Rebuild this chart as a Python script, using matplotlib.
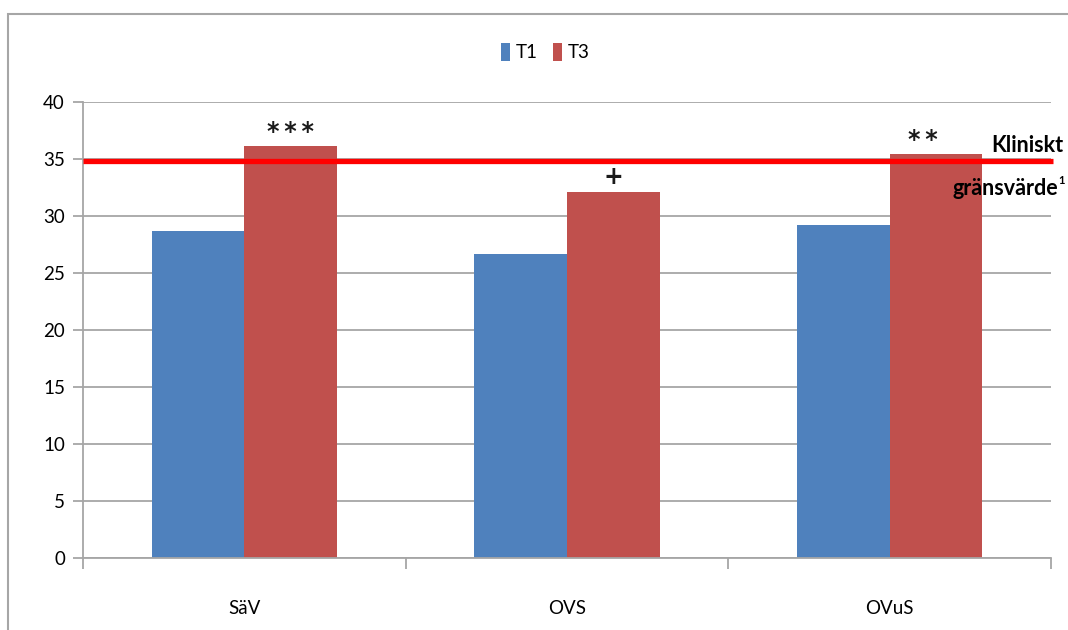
import matplotlib
matplotlib.use("Agg")
import matplotlib.pyplot as plt
from matplotlib.patches import Rectangle
import numpy as np

categories = ["SäV", "OVS", "OVuS"]
t1_values = [28.7, 26.7, 29.2]
t3_values = [36.1, 32.1, 35.4]
significance = ["***", "+", "**"]
threshold = 34.85
threshold_label = ["Kliniskt", "gränsvärde"]
series_names = ["T1", "T3"]
yticks = [0, 5, 10, 15, 20, 25, 30, 35, 40]

plt.rcParams['font.family'] = ['Lato', 'DejaVu Sans']

fig = plt.figure(figsize=(10.68, 6.3), dpi=100)
ax = fig.add_axes([83/1068, 1-558/630, (1051-83)/1068, (558-102)/630])

x = np.arange(len(categories))
w = 0.287
b1 = ax.bar(x - w/2, t1_values, w, color="#4F81BD", label=series_names[0], zorder=2)
b2 = ax.bar(x + w/2, t3_values, w, color="#C0504D", label=series_names[1], zorder=2)

ax.set_xlim(-0.5, 2.5)
ax.set_ylim(0, 40)
ax.set_yticks(yticks)
ax.yaxis.grid(True, color="#A6A6A6", linewidth=1.3, zorder=0)
ax.set_axisbelow(True)
for s in ["top", "right"]:
    ax.spines[s].set_visible(False)
for s in ["left", "bottom"]:
    ax.spines[s].set_color("#A6A6A6")
    ax.spines[s].set_linewidth(1.3)
ax.set_xticks(x)
ax.set_xticklabels(categories, fontsize=13.5)
ax.tick_params(axis="x", which="major", length=0, pad=30)
ax.set_xticks([-0.5, 0.5, 1.5, 2.5], minor=True)
ax.tick_params(axis="x", which="minor", length=8, color="#A6A6A6", width=1.3)
ax.tick_params(axis="y", length=7, color="#A6A6A6", width=1.3, labelsize=13.5, pad=6)

# threshold line
ax.plot([-0.5, 2.505], [threshold, threshold], color="#FF0000", linewidth=3.8,
        clip_on=False, zorder=4, solid_capstyle="butt")

# significance marks
offsets = [0.0, 0.0, -0.04]
ypos = [0.2, 0.25, 0.2]
for i, (v, s) in enumerate(zip(t3_values, significance)):
    label = "\u2009".join(s) if s.startswith("*") else s
    ax.text(x[i] + w/2 + offsets[i], v + ypos[i], label, ha="center", va="bottom",
            fontsize=17, fontweight="bold", color="#1a1a1a", zorder=5,
            family="DejaVu Sans")

fig.text(1063/1068, 1-145/630, threshold_label[0], ha="right", va="center",
         fontsize=15.5, fontweight="bold")
fig.text(1058/1068, 1-188/630, threshold_label[1], ha="right", va="center",
         fontsize=15.5, fontweight="bold")
fig.text(1058.5/1068, 1-180/630, "1", ha="left", va="center",
         fontsize=8, fontweight="bold")

leg = fig.legend(handles=[b1, b2], labels=series_names, loc="center",
                 bbox_to_anchor=(545/1068, 1-52/630), ncol=2, frameon=False,
                 fontsize=13.5, handlelength=0.5, handleheight=1.1,
                 handletextpad=0.3, columnspacing=0.8)

# outer border
fig.patches.append(Rectangle((8/1068, -0.1), 1.2, 1.1 - 14/630,
                             transform=fig.transFigure, fill=False,
                             edgecolor="#A6A6A6", linewidth=1.5))

fig.savefig("out.png", dpi=100)
